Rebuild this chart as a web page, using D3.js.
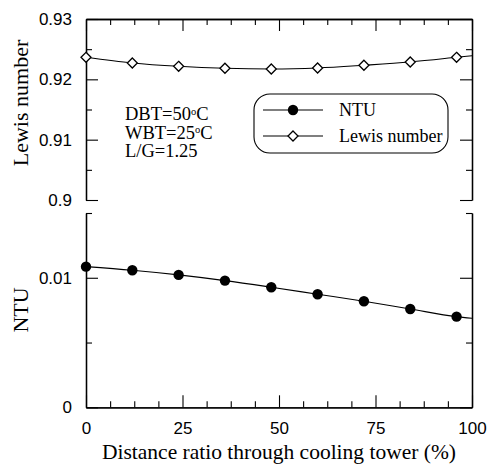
<!DOCTYPE html>
<html>
<head>
<meta charset="utf-8">
<script src="https://cdn.jsdelivr.net/npm/d3@7"></script>
<style>
  body { margin: 0; background: #fff; }
  svg { display: block; }
  .tick text { font-family: "Liberation Sans", Arial, sans-serif; font-size: 17px; fill: #000; }
  .serif { font-family: "Liberation Serif", "Times New Roman", serif; fill: #000; }
</style>
</head>
<body>
<svg id="chart" width="487" height="464"></svg>
<script>
// data
const distance = [0, 12, 24, 36, 48, 60, 72, 84, 96];
const lewis = [0.92365, 0.92271, 0.92216, 0.92183, 0.92171, 0.92188, 0.92233, 0.92287, 0.92365];
const ntu = [0.01086, 0.01058, 0.01022, 0.00978, 0.00927, 0.00873, 0.00819, 0.00759, 0.00700];
// where the fitted curves end at the right edge
const lineEndX = 100;
const lewisEnd = 0.92392;
const ntuEnd = 0.00687;

const xTicks = [0, 25, 50, 75, 100];
const lewisTicks = [0.9, 0.91, 0.92, 0.93];
const ntuTicks = [0, 0.01];

// layout
const left = 86, right = 472;
const topPanel = { top: 19, bottom: 200 };
const botPanel = { top: 213, bottom: 407.3 };

const svg = d3.select("#chart");

const x = d3.scaleLinear().domain([0, 100]).range([left, right]);
const yLe = d3.scaleLinear().domain([0.9, 0.93]).range([topPanel.bottom, topPanel.top]);
const yNtu = d3.scaleLinear().domain([0, 0.015]).range([botPanel.bottom, botPanel.top]);

const xMinor = d3.range(0, 100.01, 6.25).filter(v => v % 25 !== 0);

function styleAxis(g) {
  g.selectAll("path.domain").attr("stroke", "#000").attr("stroke-width", 1.3);
  g.selectAll(".tick line").attr("stroke", "#000").attr("stroke-width", 1.1);
}

// ---- x axes (bottom of lower panel, top of upper panel)
svg.append("g")
  .attr("transform", "translate(0," + botPanel.bottom + ")")
  .call(d3.axisBottom(x).tickValues(xTicks).tickSize(-12).tickSizeOuter(0).tickPadding(10).tickFormat(d3.format("d")))
  .call(styleAxis)
  .call(g => g.selectAll(".tick text").attr("dy", "1em"));
svg.append("g")
  .attr("transform", "translate(0," + botPanel.bottom + ")")
  .call(d3.axisBottom(x).tickValues(xMinor).tickSize(-6).tickSizeOuter(0).tickFormat(""))
  .call(styleAxis);

svg.append("g")
  .attr("transform", "translate(0," + topPanel.top + ")")
  .call(d3.axisTop(x).tickValues(xTicks).tickSize(-12).tickSizeOuter(0).tickFormat(""))
  .call(styleAxis);
svg.append("g")
  .attr("transform", "translate(0," + topPanel.top + ")")
  .call(d3.axisTop(x).tickValues(xMinor).tickSize(-6).tickSizeOuter(0).tickFormat(""))
  .call(styleAxis);

// ---- y axes, upper panel (Lewis number)
svg.append("g")
  .attr("transform", "translate(" + left + ",0)")
  .call(d3.axisLeft(yLe).tickValues(lewisTicks).tickSize(-12).tickSizeOuter(0).tickPadding(14)
    .tickFormat(d => d === 0.9 ? "0.9" : d3.format(".2f")(d)))
  .call(styleAxis);
svg.append("g")
  .attr("transform", "translate(" + left + ",0)")
  .call(d3.axisLeft(yLe).tickValues([0.905, 0.915, 0.925]).tickSize(-6).tickSizeOuter(0).tickFormat(""))
  .call(styleAxis);
svg.append("g")
  .attr("transform", "translate(" + right + ",0)")
  .call(d3.axisRight(yLe).tickValues(lewisTicks).tickSize(-12).tickSizeOuter(0).tickFormat(""))
  .call(styleAxis);
svg.append("g")
  .attr("transform", "translate(" + right + ",0)")
  .call(d3.axisRight(yLe).tickValues([0.905, 0.915, 0.925]).tickSize(-6).tickSizeOuter(0).tickFormat(""))
  .call(styleAxis);

// ---- y axes, lower panel (NTU)
svg.append("g")
  .attr("transform", "translate(" + left + ",0)")
  .call(d3.axisLeft(yNtu).tickValues(ntuTicks).tickSize(-12).tickSizeOuter(0).tickPadding(14)
    .tickFormat(d => d === 0 ? "0" : "0.01"))
  .call(styleAxis);
svg.append("g")
  .attr("transform", "translate(" + left + ",0)")
  .call(d3.axisLeft(yNtu).tickValues([0.005, 0.015]).tickSize(-6).tickSizeOuter(0).tickFormat(""))
  .call(styleAxis);
svg.append("g")
  .attr("transform", "translate(" + right + ",0)")
  .call(d3.axisRight(yNtu).tickValues(ntuTicks).tickSize(-12).tickSizeOuter(0).tickFormat(""))
  .call(styleAxis);
svg.append("g")
  .attr("transform", "translate(" + right + ",0)")
  .call(d3.axisRight(yNtu).tickValues([0.005, 0.015]).tickSize(-6).tickSizeOuter(0).tickFormat(""))
  .call(styleAxis);

// ---- curves
const lewisLine = distance.map((d, i) => [d, lewis[i]]).concat([[lineEndX, lewisEnd]]);
const ntuLine = distance.map((d, i) => [d, ntu[i]]).concat([[lineEndX, ntuEnd]]);

svg.append("path")
  .datum(lewisLine)
  .attr("fill", "none").attr("stroke", "#000").attr("stroke-width", 1.1)
  .attr("d", d3.line().x(d => x(d[0])).y(d => yLe(d[1])).curve(d3.curveMonotoneX));
svg.append("path")
  .datum(ntuLine)
  .attr("fill", "none").attr("stroke", "#000").attr("stroke-width", 1.1)
  .attr("d", d3.line().x(d => x(d[0])).y(d => yNtu(d[1])).curve(d3.curveMonotoneX));

const diamond = "M0,-5L5,0L0,5L-5,0Z";

svg.append("g").selectAll("path")
  .data(distance)
  .join("path")
  .attr("transform", (d, i) => "translate(" + x(d) + "," + yLe(lewis[i]) + ")")
  .attr("d", diamond)
  .attr("fill", "#fff").attr("stroke", "#000").attr("stroke-width", 1.3);

svg.append("g").selectAll("circle")
  .data(distance)
  .join("circle")
  .attr("cx", d => x(d))
  .attr("cy", (d, i) => yNtu(ntu[i]))
  .attr("r", 5.2)
  .attr("fill", "#000");

// ---- axis titles
svg.append("text").attr("class", "serif")
  .attr("transform", "translate(28,103) rotate(-90)")
  .attr("text-anchor", "middle").attr("font-size", 22)
  .text("Lewis number");
svg.append("text").attr("class", "serif")
  .attr("transform", "translate(28,310) rotate(-90)")
  .attr("text-anchor", "middle").attr("font-size", 22)
  .text("NTU");
svg.append("text").attr("class", "serif")
  .attr("x", (left + right) / 2).attr("y", 459)
  .attr("text-anchor", "middle").attr("font-size", 21.5)
  .text("Distance ratio through cooling tower (%)");

// ---- conditions note
const notes = [["DBT=50", "C"], ["WBT=25", "C"], ["L/G=1.25", null]];
const note = svg.append("text").attr("class", "serif")
  .attr("x", 125).attr("y", 120).attr("font-size", 18.5);
notes.forEach((n, i) => {
  note.append("tspan").attr("x", 125).attr("y", 120 + i * 18.6).text(n[0]);
  if (n[1]) {
    note.append("tspan").attr("font-size", 10.5).attr("dy", -5.5).text("o");
    note.append("tspan").attr("dy", 5.5).text(n[1]);
  }
});

// ---- legend
const legend = svg.append("g");
legend.append("rect")
  .attr("x", 254).attr("y", 94).attr("width", 194).attr("height", 59)
  .attr("rx", 16).attr("ry", 16)
  .attr("fill", "#fff").attr("stroke", "#000").attr("stroke-width", 1.1);
const legendRows = [{ name: "NTU", y: 110 }, { name: "Lewis number", y: 136 }];
legendRows.forEach(r => {
  legend.append("line")
    .attr("x1", 263).attr("x2", 323).attr("y1", r.y).attr("y2", r.y)
    .attr("stroke", "#000").attr("stroke-width", 1.1);
  if (r.name === "NTU") {
    legend.append("circle").attr("cx", 293).attr("cy", r.y).attr("r", 5.2).attr("fill", "#000");
  } else {
    legend.append("path").attr("transform", "translate(293," + r.y + ")").attr("d", diamond)
      .attr("fill", "#fff").attr("stroke", "#000").attr("stroke-width", 1.3);
  }
  legend.append("text").attr("class", "serif")
    .attr("x", 339).attr("y", r.y + 6).attr("font-size", 18)
    .text(r.name);
});
</script>
</body>
</html>
